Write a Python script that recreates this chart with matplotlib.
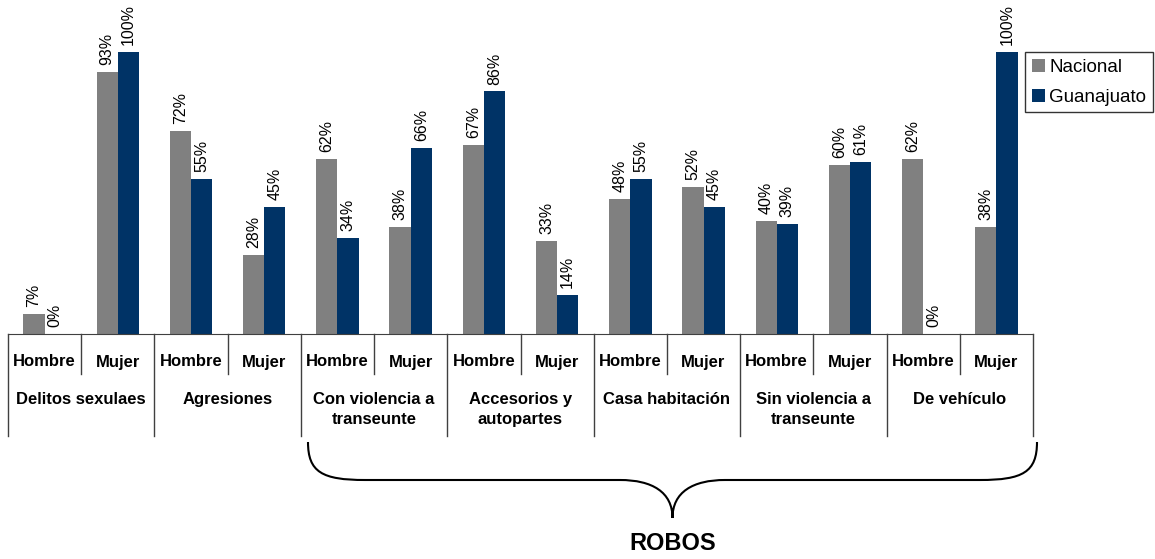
import matplotlib.pyplot as plt
import numpy as np
from matplotlib.path import Path
from matplotlib.patches import PathPatch
from matplotlib.transforms import blended_transform_factory

categorias = ['Delitos sexulaes', 'Agresiones', 'Con violencia a\ntranseunte',
              'Accesorios y\nautopartes', 'Casa habitación',
              'Sin violencia a\ntranseunte', 'De vehículo']
sexos = ['Hombre', 'Mujer']
nacional = [7, 93, 72, 28, 62, 38, 67, 33, 48, 52, 40, 60, 62, 38]
guanajuato = [0, 100, 55, 45, 34, 66, 86, 14, 55, 45, 39, 61, 0, 100]

GRIS = '#808080'
AZUL = '#003366'
W, H = 1155, 559

plt.rcParams['font.family'] = ['Liberation Sans', 'DejaVu Sans']

fig = plt.figure(figsize=(W / 100, H / 100), dpi=100)
# axes area in pixels: x 8..1033, baseline y=334, 100% at y=52
ax = fig.add_axes([8 / W, 1 - 334 / H, (1033 - 8) / W, (334 - 52) / H])

n = len(nacional)
x = np.arange(n) + 0.5
bw = 0.29
b1 = ax.bar(x - bw / 2, nacional, bw, color=GRIS, label='Nacional')
b2 = ax.bar(x + bw / 2, guanajuato, bw, color=AZUL, label='Guanajuato')

for bars, vals in ((b1, nacional), (b2, guanajuato)):
    for b, v in zip(bars, vals):
        ax.annotate('{}%'.format(v), (b.get_x() + b.get_width() / 2, v),
                    xytext=(0, 5), textcoords='offset points', rotation=90,
                    ha='center', va='bottom', fontsize=11.5, annotation_clip=False)

ax.set_xlim(0, n)
ax.set_ylim(0, 100)
for s in ['top', 'right', 'left']:
    ax.spines[s].set_visible(False)
ax.spines['bottom'].set_color('#404040')
ax.set_xticks([])
ax.set_yticks([])

# table under the bars
tr = blended_transform_factory(ax.transData, fig.transFigure)
fy = lambda py: 1 - py / H
for i in range(n + 1):
    bottom = 436 if i % 2 == 0 else 374
    ax.plot([i, i], [fy(334), fy(bottom)], color='#404040', lw=1,
            transform=tr, clip_on=False)
for i in range(n):
    ax.text(i + 0.5, fy(362), sexos[i % 2], transform=tr, ha='center',
            va='center', fontsize=12, fontweight='bold')
for k, c in enumerate(categorias):
    ax.text(2 * k + 1, fy(392), c, transform=tr, ha='center', va='top',
            fontsize=12, fontweight='bold', linespacing=1.45)

# brace for ROBOS
def p(px, py):
    return (px / W, 1 - py / H)

xl, xr, xm = 308, 1037, 672.5
verts = [p(xl, 442), p(xl, 472), p(322, 480), p(365, 480),
         p(620, 480),
         p(652, 480), p(xm, 492), p(xm, 518),
         p(xm, 492), p(2 * xm - 652, 480), p(2 * xm - 620, 480),
         p(2 * xm - 365, 480),
         p(2 * xm - 322, 480), p(xr, 472), p(xr, 442)]
codes = [Path.MOVETO, Path.CURVE4, Path.CURVE4, Path.CURVE4,
         Path.LINETO,
         Path.CURVE4, Path.CURVE4, Path.CURVE4,
         Path.CURVE4, Path.CURVE4, Path.CURVE4,
         Path.LINETO,
         Path.CURVE4, Path.CURVE4, Path.CURVE4]
fig.patches.append(PathPatch(Path(verts, codes), transform=fig.transFigure,
                             fill=False, lw=1.5, color='black'))
fig.text(xm / W, 1 - 543 / H, 'ROBOS', ha='center', va='center', fontsize=17,
         fontweight='bold')

leg = fig.legend(loc='upper left', bbox_to_anchor=(1025 / W, 1 - 52 / H),
                 fontsize=13.5, frameon=True, fancybox=False, edgecolor='black',
                 handlelength=0.7, handleheight=0.7, handletextpad=0.25,
                 labelspacing=0.7, borderpad=0.35, borderaxespad=0)
leg.get_frame().set_linewidth(1)

fig.savefig('out.png', dpi=100)
